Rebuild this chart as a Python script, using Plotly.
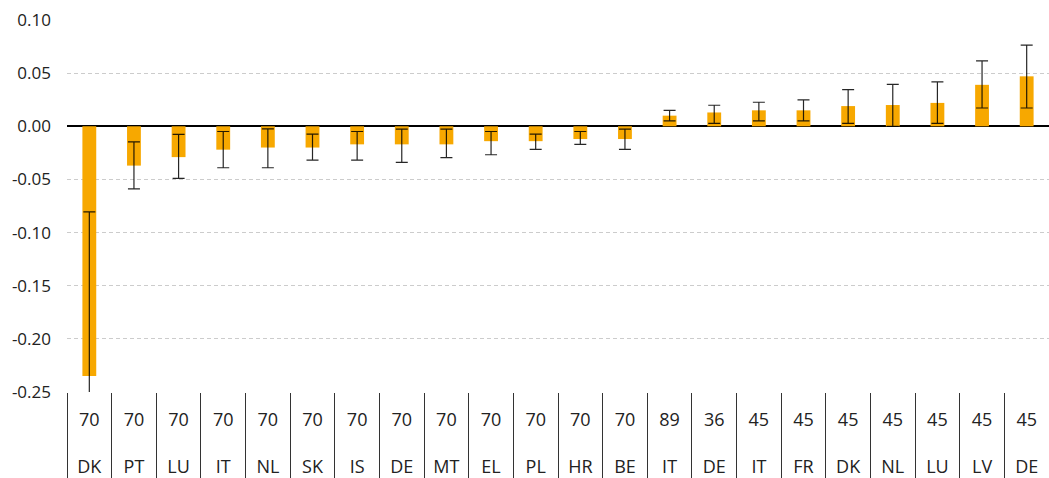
import plotly.graph_objects as go

# Country codes (outer label row) and horizon in years (inner label row)
countries = ["DK", "PT", "LU", "IT", "NL", "SK", "IS", "DE", "MT", "EL", "PL",
             "HR", "BE", "IT", "DE", "IT", "FR", "DK", "NL", "LU", "LV", "DE"]
horizons = [70, 70, 70, 70, 70, 70, 70, 70, 70, 70, 70,
            70, 70, 89, 36, 45, 45, 45, 45, 45, 45, 45]

# Point estimates
values = [-0.235, -0.037, -0.029, -0.022, -0.020, -0.020, -0.017, -0.017, -0.017, -0.014, -0.014,
          -0.012, -0.012, 0.010, 0.013, 0.015, 0.015, 0.019, 0.020, 0.022, 0.039, 0.047]

# Confidence interval bounds
ci_high = [-0.0805, -0.0146, -0.0077, -0.0049, -0.0024, -0.0073, -0.0049, -0.0026, -0.0026, -0.0049, -0.0073,
           -0.0049, -0.0026, 0.0150, 0.0198, 0.0226, 0.0248, 0.0345, 0.0395, 0.0417, 0.0615, 0.0763]
ci_low = [-0.390, -0.0589, -0.0490, -0.0390, -0.0390, -0.0318, -0.0318, -0.0340, -0.0294, -0.0268, -0.0218,
          -0.0171, -0.0218, 0.0050, 0.0028, 0.0050, 0.0050, 0.0028, 0.0000, 0.0028, 0.0172, 0.0172]

y_ticks = [0.10, 0.05, 0.00, -0.05, -0.10, -0.15, -0.20, -0.25]

labels = [f"{h}<br><br>{c}" for h, c in zip(horizons, countries)]
err_plus = [hi - v for hi, v in zip(ci_high, values)]
err_minus = [v - lo for lo, v in zip(ci_low, values)]

fig = go.Figure(
    go.Bar(
        x=labels,
        y=values,
        marker=dict(color="#F7A800", line=dict(width=0)),
        error_y=dict(
            type="data",
            symmetric=False,
            array=err_plus,
            arrayminus=err_minus,
            color="rgba(0,0,0,0.85)",
            thickness=1.2,
            width=6,
        ),
        hoverinfo="skip",
    )
)

fig.update_layout(
    width=1049,
    height=478,
    margin=dict(l=67, r=0, t=20, b=86, autoexpand=False),
    paper_bgcolor="white",
    plot_bgcolor="white",
    bargap=0.69,
    showlegend=False,
    font=dict(family="Open Sans, sans-serif", color="#222"),
)

fig.update_xaxes(
    type="category",
    automargin=False,
    tickson="boundaries",
    ticks="outside",
    ticklen=86,
    tickwidth=1,
    tickcolor="#333",
    showgrid=False,
    showline=False,
    zeroline=False,
    tickfont=dict(size=18, color="#222"),
    tickangle=0,
    ticklabelstandoff=15,
)

fig.update_yaxes(
    range=[-0.25, 0.10],
    automargin=False,
    tickvals=y_ticks,
    ticktext=[f"{t:.2f}" for t in y_ticks],
    showgrid=True,
    gridcolor="#cccccc",
    gridwidth=1,
    griddash="4px,3px",
    zeroline=True,
    zerolinecolor="#000",
    zerolinewidth=1.5,
    showline=False,
    ticks="",
    ticklabelstandoff=15,
    tickfont=dict(size=17, color="#222"),
)

fig.write_html("out.html")
